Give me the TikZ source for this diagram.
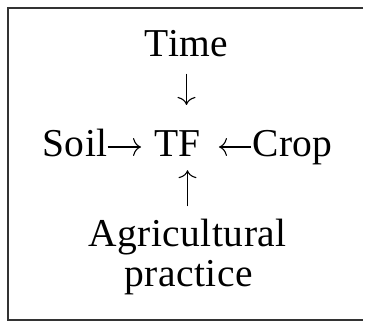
\documentclass[tikz,border=0pt]{standalone}
\usepackage{fontspec}
\setmainfont{Liberation Serif}[LetterSpace=1.2]
\usetikzlibrary{arrows.meta}
\begin{document}
\begin{tikzpicture}[x=1pt,y=1pt,
  lbl/.style={inner sep=0pt, font=\fontsize{39.5}{44}\selectfont},
  arr/.style={line width=1.1pt, -{To[length=8pt,width=18pt]}}]
\useasboundingbox (0,0) rectangle (365,322);
\draw[line width=2pt, black!80] (363,314) -- (8,314) -- (8,2) -- (363,2);
\node[lbl, anchor=base] (time) at (186.5,265) {Time};
\node[lbl, anchor=base] (soil) at (75,165) {Soil};
\node[lbl, anchor=base] (tf) at (177.5,165) {TF};
\node[lbl, anchor=base] (crop) at (292.5,165) {Crop};
\node[lbl, anchor=base] (agri) at (187.5,75) {Agricultural};
\node[lbl, anchor=base] (prac) at (188.5,35) {practice};
\draw[arr, shorten <=16pt, shorten >=26pt] (time.south) -- (time.south |- tf.north);
\draw[arr, shorten >=13pt] ([yshift=10pt]soil.base east) -- ([yshift=10pt]tf.base west);
\draw[arr, shorten <=1pt, shorten >=18pt] ([yshift=10pt]crop.base west) -- ([yshift=10pt]tf.base east);
\draw[arr, shorten <=13pt, shorten >=13pt] (agri.north) -- (agri.north |- tf.south);
\end{tikzpicture}
\end{document}
